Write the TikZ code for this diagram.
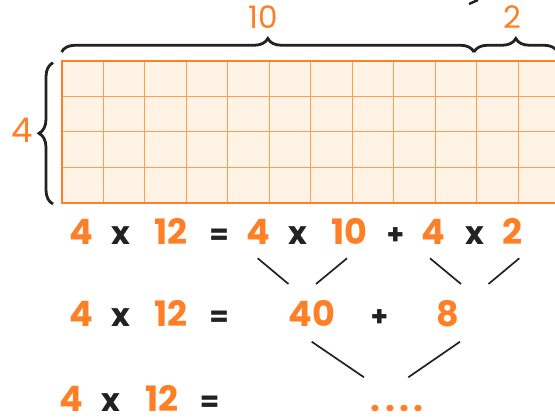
\documentclass[tikz,border=0pt]{standalone}
\usepackage{fontspec}
\setmainfont{Poppins}
\usetikzlibrary{decorations.pathreplacing}
\definecolor{org}{RGB}{255,127,39}
\definecolor{gridfill}{RGB}{254,243,228}
\definecolor{gridln}{RGB}{255,160,80}
\definecolor{ink}{RGB}{34,34,34}
\begin{document}
\begin{tikzpicture}[x=1pt,y=-1pt,
  num/.style={text=org,font=\fontsize{35}{35}\selectfont\bfseries,inner sep=0pt,anchor=base},
  lab/.style={text=org,font=\fontsize{31}{31}\selectfont,inner sep=0pt,anchor=base},
  op/.style={text=ink,font=\fontsize{28}{28}\selectfont\bfseries,inner sep=0pt,anchor=base},
  times/.style={op,font=\fontsize{32}{32}\selectfont\bfseries},
  bracestyle/.style={draw=ink,line width=2.8pt,decorate,decoration={brace,amplitude=13.5pt}},
  branch/.style={draw=ink,line width=1.7pt}]
\useasboundingbox (0,0) rectangle (555,419);
\clip (0,0) rectangle (555,419);
% grid
\fill[gridfill] (61.7,60.7) rectangle (570,202.7);
\foreach \i in {1,...,12} \draw[gridln,line width=1.2pt] ({61.7+41.5*\i},60.7) -- ({61.7+41.5*\i},202.7);
\foreach \j in {1,2,3} \draw[gridln,line width=1.2pt] (61.7,{60.7+35.5*\j}) -- (570,{60.7+35.5*\j});
\draw[org,line width=2pt] (570,60.7) -- (61.7,60.7) -- (61.7,202.7) -- (570,202.7);
% braces
\coordinate (b10a) at (61.6,52);
\coordinate (b10b) at (474,52);
\coordinate (b2b) at (557.6,52);
\coordinate (b4a) at (53,204);
\coordinate (b4b) at (53,62.7);
\draw[bracestyle] (b10a) -- (b10b);
\draw[bracestyle] (b10b) -- (b2b);
\draw[bracestyle,decoration={brace,amplitude=14pt}] (b4a) -- (b4b);
\node[lab] (l10) at (263,28.5) {10};
\node[lab] (l2) at (512.5,28.3) {2};
\node[lab,font=\fontsize{34}{34}\selectfont] (l4) at (21.7,143) {4};
% stray mark at top
\coordinate (m1) at (469,4);
\coordinate (m2) at (478,0);
\draw[ink,line width=2.4pt] (m1) -- (m2);
% row 1
\node[num]   (r1a) at (81,245) {4};
\node[times] (r1b) at (121,245) {x};
\node[num]   (r1c) at (171,245) {12};
\node[op]    (r1d) at (219,245) {=};
\node[num]   (r1e) at (258,245) {4};
\node[times] (r1f) at (297.5,245) {x};
\node[num]   (r1g) at (349,245) {10};
\node[op]    (r1h) at (395.5,245) {+};
\node[num]   (r1i) at (433,245) {4};
\node[times] (r1j) at (474.5,245) {x};
\node[num]   (r1k) at (512.5,245) {2};
% row 2
\node[num]   (r2a) at (81,327) {4};
\node[times] (r2b) at (121,327) {x};
\node[num]   (r2c) at (171,327) {12};
\node[op]    (r2d) at (219,327) {=};
\node[num]   (r2e) at (312,327) {40};
\node[op]    (r2f) at (379.5,327) {+};
\node[num]   (r2g) at (447.5,327) {8};
% row 3
\node[num]   (r3a) at (71.7,412) {4};
\node[times] (r3b) at (111,412) {x};
\node[num]   (r3c) at (162,412) {12};
\node[op]    (r3d) at (209.5,412) {=};
\node[num]   (r3e) at (397.2,412) {.\kern4.5pt.\kern4.5pt.\kern4.5pt.};
% branches row 1 -> row 2
\coordinate (p1) at (257.7,258.3); \coordinate (q1) at (288.5,284);
\coordinate (p2) at (347,258.3);   \coordinate (q2) at (316,284);
\coordinate (p3) at (430,258.3);   \coordinate (q3) at (461,284);
\coordinate (p4) at (519.3,258.3); \coordinate (q4) at (488.5,284);
\draw[branch] (p1) -- (q1);
\draw[branch] (p2) -- (q2);
\draw[branch] (p3) -- (q3);
\draw[branch] (p4) -- (q4);
% branches row 2 -> row 3
\coordinate (p5) at (311.7,341.7); \coordinate (q5) at (364,377.3);
\coordinate (p6) at (460,341.7);   \coordinate (q6) at (408.3,377.3);
\draw[branch] (p5) -- (q5);
\draw[branch] (p6) -- (q6);
\end{tikzpicture}
\end{document}
